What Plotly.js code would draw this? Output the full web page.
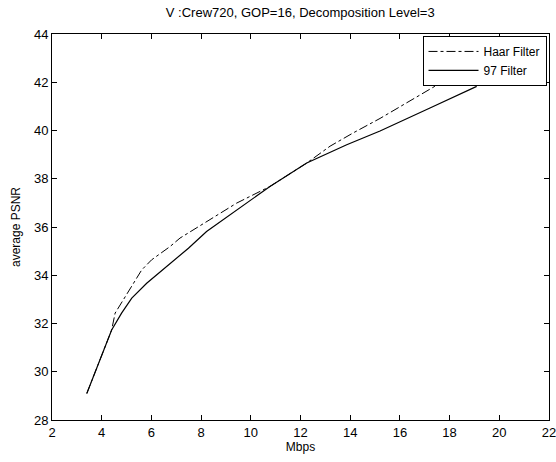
<!DOCTYPE html>
<html>
<head>
<meta charset="utf-8">
<script src="https://cdn.plot.ly/plotly-3.0.1.min.js"></script>
<style>html,body{margin:0;padding:0;background:#fff;}#chart{width:556px;height:462px;}</style>
</head>
<body>
<div id="chart"></div>
<script>
var haarX = [3.4, 3.9, 4.4, 4.54, 5.21, 5.61, 6.01, 6.75, 7.15, 8.22, 9.43, 10.77, 12.25, 13.19, 14.12, 15.2, 16.54, 17.75, 19.0];
var haarY = [29.1, 30.45, 31.73, 32.43, 33.53, 34.22, 34.64, 35.19, 35.54, 36.23, 36.99, 37.68, 38.65, 39.35, 39.9, 40.5, 41.3, 42.04, 42.6];
var f97X = [3.4, 3.9, 4.4, 4.8, 5.21, 5.81, 6.61, 7.49, 8.22, 9.43, 10.77, 12.25, 13.86, 15.2, 16.0, 17.21, 19.09];
var f97Y = [29.1, 30.45, 31.73, 32.43, 33.05, 33.67, 34.36, 35.12, 35.81, 36.71, 37.68, 38.65, 39.41, 39.98, 40.35, 40.93, 41.83];
var seriesNames = ["Haar Filter", "97 Filter"];
var titleText = "V :Crew720, GOP=16, Decomposition Level=3";
var xTitle = "Mbps";
var yTitle = "average PSNR";

var fam = "Liberation Sans, Arial, sans-serif";
var traces = [
  {x: haarX, y: haarY, name: seriesNames[0], mode: "lines", type: "scatter",
   line: {color: "#000", width: 1, dash: "dashdot"}},
  {x: f97X, y: f97Y, name: seriesNames[1], mode: "lines", type: "scatter",
   line: {color: "#000", width: 1.2}}
];
var axisCommon = {
  showgrid: false, zeroline: false, showline: true, linecolor: "#000", linewidth: 1,
  mirror: "ticks", ticks: "inside", ticklen: 5, tickcolor: "#000",
  ticklabeloverflow: "allow",
  tickfont: {family: fam, size: 13, color: "#000"}
};
var layout = {
  width: 556, height: 462,
  margin: {l: 52, r: 7, t: 34, b: 42},
  paper_bgcolor: "#fff", plot_bgcolor: "#fff",
  font: {family: fam, color: "#000"},
  title: {text: titleText, font: {family: fam, size: 13, color: "#000"},
          x: 0.54, xanchor: "center", y: 0.972, yanchor: "middle", yref: "container"},
  xaxis: Object.assign({}, axisCommon, {range: [2, 22], dtick: 2,
          title: {text: xTitle, font: {family: fam, size: 12, color: "#000"}, standoff: 2}}),
  yaxis: Object.assign({}, axisCommon, {range: [28, 44], dtick: 2,
          title: {text: yTitle, font: {family: fam, size: 12, color: "#000"}, standoff: 10}}),
  showlegend: true,
  legend: {x: 0.995, xanchor: "right", y: 0.995, yanchor: "top", bgcolor: "#fff",
           bordercolor: "#000", borderwidth: 1, itemwidth: 50,
           font: {family: fam, size: 12, color: "#000"},
           tracegroupgap: 0}
};
Plotly.newPlot("chart", traces, layout, {displayModeBar: false, staticPlot: true});
</script>
</body>
</html>
